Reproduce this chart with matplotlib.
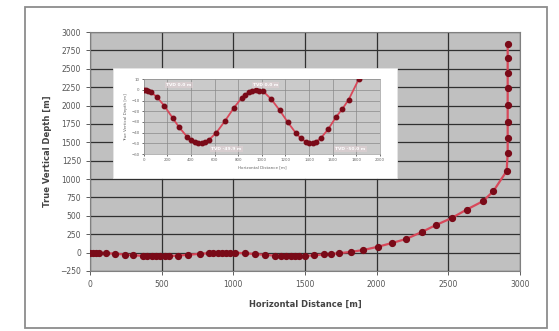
import matplotlib.pyplot as plt
from matplotlib.patches import Rectangle

W, H = 559, 331

# well path: horizontal distance [m] vs true vertical depth [m]
horiz_dist = [0, 20, 40, 60, 110, 175, 245, 300, 370, 400, 430, 460, 490, 520, 550,
              615, 685, 765, 830, 860, 890, 920, 950, 980, 1010, 1080, 1150, 1220,
              1290, 1330, 1370, 1400, 1430, 1460, 1500, 1560, 1630, 1680, 1735, 1820,
              1905, 2010, 2105, 2205, 2314, 2414, 2523, 2628, 2742, 2814, 2907,
              2914, 2914, 2914, 2914, 2914, 2914, 2914, 2914]
true_vert_depth = [0, -0.2, -0.9, -2, -6.3, -15, -26.2, -35, -44.2, -47, -48.9, -49.9,
                   -49.9, -48.9, -47, -40, -29.5, -16.5, -7.4, -4.4, -2, -0.5, 0, -0.5,
                   -1.1, -8.7, -18.9, -30.3, -40.7, -45.2, -48.4, -49.6, -50, -48.5, -45,
                   -37, -25, -18, -9, 10, 35, 80, 130, 185, 280, 375, 470, 585, 700, 835,
                   1110, 1350, 1555, 1780, 2005, 2235, 2445, 2640, 2840]

main_xticks = [0, 500, 1000, 1500, 2000, 2500, 3000]
main_yticks = list(range(-250, 3001, 250))
inset_xticks = list(range(0, 2001, 200))
inset_yticks = list(range(-60, 11, 10))

line_col = '#d8485a'
mark_col = '#7a0a18'
grey_bg = '#c0c0c0'

fig = plt.figure(figsize=(W / 100, H / 100), dpi=100)


def box(x0, y0, x1, y1):
    return [x0 / W, 1 - y1 / H, (x1 - x0) / W, (y1 - y0) / H]


# outer frame
fig.add_artist(Rectangle((25 / W, 3 / H), 522 / W, 321 / H, transform=fig.transFigure,
                         fill=False, edgecolor='#8c8c8c', lw=1.3, zorder=0))

ax = fig.add_axes(box(90, 32, 520, 271))
ax.set_facecolor(grey_bg)
ax.plot(horiz_dist, true_vert_depth, color=line_col, lw=1.6, marker='o', ms=4.2,
        mfc=mark_col, mec=mark_col, zorder=3)
ax.set_xlim(0, 3000)
ax.set_ylim(-250, 3000)
ax.set_xticks(main_xticks)
ax.set_yticks(main_yticks)
ax.grid(True, color='#303030', lw=0.9)
ax.set_axisbelow(True)
ax.tick_params(labelsize=5.5, labelcolor='#555555', length=3, width=0.6, color='#444444')
for s in ax.spines.values():
    s.set_color('#808080')
ax.set_xlabel('Horizontal Distance [m]', fontsize=6, fontweight='bold', color='#444444', labelpad=8)
ax.set_ylabel('True Vertical Depth [m]', fontsize=6, fontweight='bold', color='#444444', labelpad=6)

# white panel behind the inset
fig.add_artist(Rectangle((113 / W, 1 - 178 / H), 284 / W, 110 / H, transform=fig.transFigure,
                         facecolor='white', edgecolor='#e6e6e6', lw=0.6, zorder=1))

ins = fig.add_axes(box(143.7, 79.3, 380, 154), zorder=3)
ins.set_facecolor('#cacaca')
ins.plot(horiz_dist, true_vert_depth, color=line_col, lw=1.3, marker='o', ms=3.2,
         mfc=mark_col, mec=mark_col, zorder=3)
ins.set_xlim(0, 2000)
ins.set_ylim(-60, 10)
ins.set_xticks(inset_xticks)
ins.set_yticks(inset_yticks)
ins.grid(True, color='#8a8a8a', lw=0.5)
ins.set_axisbelow(True)
ins.tick_params(labelsize=2.8, labelcolor='#666666', length=1.5, width=0.4, pad=1.5)
for s in ins.spines.values():
    s.set_color('#999999')
    s.set_linewidth(0.5)
ins.set_xlabel('Horizontal Distance [m]', fontsize=3, color='#666666', labelpad=2)
ins.set_ylabel('True Vertical Depth [m]', fontsize=3, color='#666666', labelpad=2)

lbl = dict(fontsize=3.2, color='white', fontweight='bold', ha='center', va='center',
           bbox=dict(facecolor='#e0d0d4', edgecolor='none', pad=0.8, alpha=0.6))
ins.text(300, 5, 'TVD 0.0 m', **lbl)
ins.text(1030, 5, 'TVD 0.0 m', **lbl)
ins.text(700, -55, 'TVD -49.9 m', **lbl)
ins.text(1750, -55, 'TVD -50.0 m', **lbl)

fig.savefig('out.png', dpi=100)
